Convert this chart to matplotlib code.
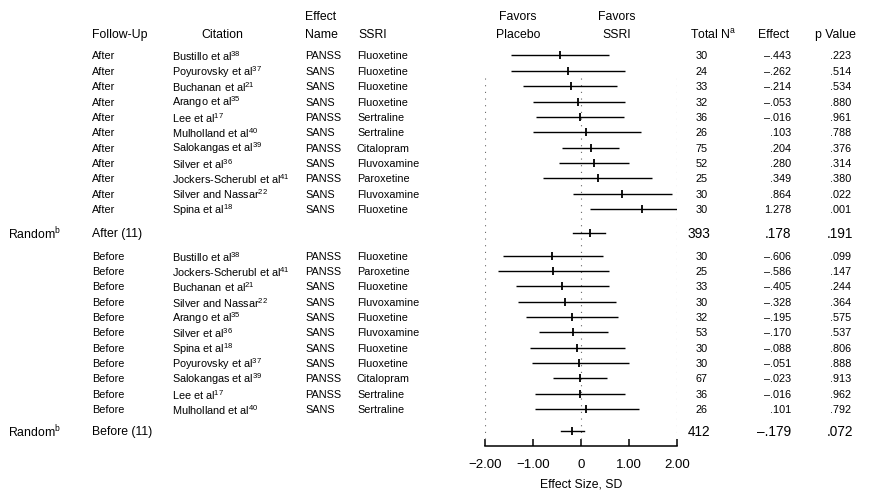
import matplotlib
matplotlib.use("Agg")
import matplotlib.pyplot as plt
from matplotlib.transforms import blended_transform_factory

plt.rcParams['font.family'] = ['Liberation Sans', 'DejaVu Sans']
plt.rcParams['mathtext.fontset'] = 'custom'
plt.rcParams['mathtext.rm'] = 'Liberation Sans'

# ---------------- data ----------------
after_citations = ["Bustillo et al", "Poyurovsky et al", "Buchanan et al", "Arango et al",
                   "Lee et al", "Mulholland et al", "Salokangas et al", "Silver et al",
                   "Jockers-Scherubl et al", "Silver and Nassar", "Spina et al"]
after_refs = ["38", "37", "21", "35", "17", "40", "39", "36", "41", "22", "18"]
after_measure = ["PANSS", "SANS", "SANS", "SANS", "PANSS", "SANS", "PANSS", "SANS",
                 "PANSS", "SANS", "SANS"]
after_ssri = ["Fluoxetine", "Fluoxetine", "Fluoxetine", "Fluoxetine", "Sertraline",
              "Sertraline", "Citalopram", "Fluvoxamine", "Paroxetine", "Fluvoxamine",
              "Fluoxetine"]
after_n = [30, 24, 33, 32, 36, 26, 75, 52, 25, 30, 30]
after_effect = [-0.443, -0.262, -0.214, -0.053, -0.016, 0.103, 0.204, 0.280, 0.349, 0.864, 1.278]
after_p = [".223", ".514", ".534", ".880", ".961", ".788", ".376", ".314", ".380", ".022", ".001"]
after_lo = [-1.45, -1.45, -1.20, -1.01, -0.93, -0.99, -0.40, -0.46, -0.79, -0.16, 0.18]
after_hi = [0.59, 0.91, 0.74, 0.91, 0.90, 1.24, 0.80, 1.01, 1.47, 1.89, 2.38]

rand_after = dict(label="After (11)", n=393, effect=0.178, p=".191", lo=-0.16, hi=0.51)

before_citations = ["Bustillo et al", "Jockers-Scherubl et al", "Buchanan et al",
                    "Silver and Nassar", "Arango et al", "Silver et al", "Spina et al",
                    "Poyurovsky et al", "Salokangas et al", "Lee et al", "Mulholland et al"]
before_refs = ["38", "41", "21", "22", "35", "36", "18", "37", "39", "17", "40"]
before_measure = ["PANSS", "PANSS", "SANS", "SANS", "SANS", "SANS", "SANS", "SANS",
                  "PANSS", "PANSS", "SANS"]
before_ssri = ["Fluoxetine", "Paroxetine", "Fluoxetine", "Fluvoxamine", "Fluoxetine",
               "Fluvoxamine", "Fluoxetine", "Fluoxetine", "Citalopram", "Sertraline",
               "Sertraline"]
before_n = [30, 25, 33, 30, 32, 53, 30, 30, 67, 36, 26]
before_effect = [-0.606, -0.586, -0.405, -0.328, -0.195, -0.170, -0.088, -0.051, -0.023, -0.016, 0.101]
before_p = [".099", ".147", ".244", ".364", ".575", ".537", ".806", ".888", ".913", ".962", ".792"]
before_lo = [-1.62, -1.72, -1.35, -1.32, -1.14, -0.88, -1.07, -1.03, -0.59, -0.95, -0.95]
before_hi = [0.45, 0.59, 0.59, 0.72, 0.78, 0.57, 0.91, 0.99, 0.55, 0.92, 1.20]

rand_before = dict(label="Before (11)", n=412, effect=-0.179, p=".072", lo=-0.42, hi=0.06)

xticks = [-2, -1, 0, 1, 2]
xticklabels = ["\u22122.00", "\u22121.00", "0", "1.00", "2.00"]

# ---------------- layout ----------------
W, H = 887, 502
fig = plt.figure(figsize=(W / 100, H / 100), dpi=100)
ax = fig.add_axes([485 / W, 55 / H, 192 / W, 447 / H])

after_y = [i for i in range(len(after_effect))]
rand_after_y = 11.55
before_y = [13.05 + i for i in range(len(before_effect))]
rand_before_y = 24.45
head1_y, head2_y = -2.6, -1.42

ax.set_xlim(-2, 2)
ax.set_ylim(25.45, -3.68)

def fx(px):
    return px / W

tr = blended_transform_factory(fig.transFigure, ax.transData)

def fmt_eff(v):
    s = f"{v:.3f}"
    s = s.replace("-0.", "\u2013.").replace("0.", ".")
    return s

row_fs = 7.8
head_fs = 8.8
big_fs = 9.8

def draw_rows(ys, label, cits, refs, meas, ssri, ns, effs, ps, los, his):
    for y, c, r, m, s, n, e, p, lo, hi in zip(ys, cits, refs, meas, ssri, ns, effs, ps, los, his):
        ax.text(fx(92), y, label, transform=tr, fontsize=row_fs, va="center", ha="left")
        ax.text(fx(172), y, c + r"$^{\mathregular{" + r + "}}$", transform=tr,
                fontsize=row_fs, va="center", ha="left")
        ax.text(fx(305), y, m, transform=tr, fontsize=row_fs, va="center", ha="left")
        ax.text(fx(357), y, s, transform=tr, fontsize=row_fs, va="center", ha="left")
        ax.text(fx(708), y, str(n), transform=tr, fontsize=row_fs, va="center", ha="right")
        ax.text(fx(791), y, fmt_eff(e), transform=tr, fontsize=row_fs, va="center", ha="right")
        ax.text(fx(851), y, p, transform=tr, fontsize=row_fs, va="center", ha="right")
        ax.plot([lo, hi], [y, y], color="black", lw=1.0, solid_capstyle="butt")
        ax.plot([e], [y], marker="|", color="black", ms=6, mew=1.3)

def draw_random(y, d):
    ax.text(fx(8), y, r"Random$^{\mathregular{b}}$", transform=tr, fontsize=head_fs,
            va="center", ha="left")
    ax.text(fx(92), y, d["label"], transform=tr, fontsize=head_fs, va="center", ha="left")
    ax.text(fx(710), y, str(d["n"]), transform=tr, fontsize=big_fs, va="center", ha="right")
    ax.text(fx(791), y, fmt_eff(d["effect"]), transform=tr, fontsize=big_fs, va="center", ha="right")
    ax.text(fx(853), y, d["p"], transform=tr, fontsize=big_fs, va="center", ha="right")
    ax.plot([d["lo"], d["hi"]], [y, y], color="black", lw=1.0)
    ax.plot([d["effect"]], [y], marker="|", color="black", ms=6, mew=1.3)

# reference dotted lines
for xv in (-2, 0, 2):
    ax.plot([xv, xv], [1.5, 25.3], color="#666666", lw=0.8, linestyle=(0, (1, 5)))

draw_rows(after_y, "After", after_citations, after_refs, after_measure, after_ssri,
          after_n, after_effect, after_p, after_lo, after_hi)
draw_random(rand_after_y, rand_after)
draw_rows(before_y, "Before", before_citations, before_refs, before_measure, before_ssri,
          before_n, before_effect, before_p, before_lo, before_hi)
draw_random(rand_before_y, rand_before)

# headers
hdr = dict(transform=tr, fontsize=head_fs, va="center")
ax.text(fx(92), head2_y, "Follow-Up", ha="left", **hdr)
ax.text(fx(222), head2_y, "Citation", ha="center", **hdr)
ax.text(fx(305), head1_y, "Effect", ha="left", **hdr)
ax.text(fx(305), head2_y, "Name", ha="left", **hdr)
ax.text(fx(373), head2_y, "SSRI", ha="center", **hdr)
ax.text(fx(518), head1_y, "Favors", ha="center", **hdr)
ax.text(fx(518), head2_y, "Placebo", ha="center", **hdr)
ax.text(fx(617), head1_y, "Favors", ha="center", **hdr)
ax.text(fx(617), head2_y, "SSRI", ha="center", **hdr)
ax.text(fx(713), head2_y, r"Total N$^{\mathregular{a}}$", ha="center", **hdr)
ax.text(fx(774), head2_y, "Effect", ha="center", **hdr)
ax.text(fx(835), head2_y, "p Value", ha="center", **hdr)

# axis styling
for sp in ("top", "left", "right"):
    ax.spines[sp].set_visible(False)
ax.spines["bottom"].set_bounds(-2, 2)
ax.spines["bottom"].set_linewidth(1.1)
ax.set_yticks([])
ax.set_xticks(xticks)
ax.set_xticklabels(xticklabels)
ax.tick_params(axis="x", direction="in", length=5, width=1.1, pad=9, labelsize=9.5)
ax.set_xlabel("Effect Size, SD", fontsize=8.8, labelpad=5)
ax.patch.set_visible(False)

fig.savefig("out.png", dpi=100)
